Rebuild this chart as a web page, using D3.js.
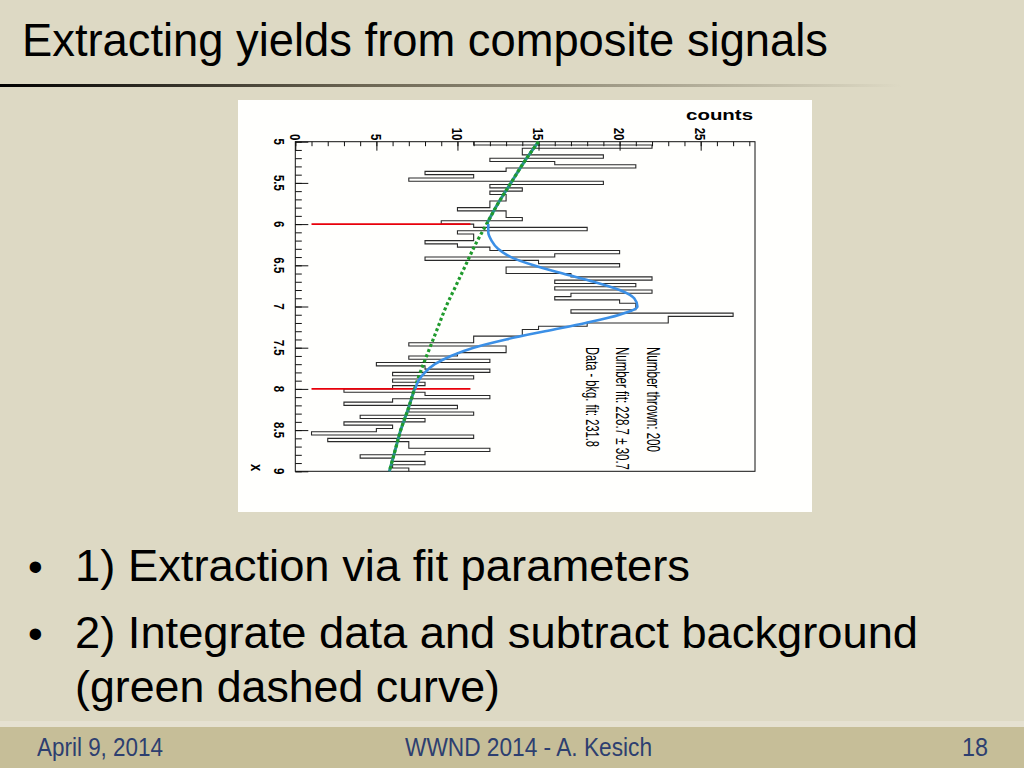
<!DOCTYPE html>
<html><head><meta charset="utf-8">
<script src="https://cdn.jsdelivr.net/npm/d3@7"></script>
<style>html,body{margin:0;padding:0;background:#ddd9c4;}svg{display:block}</style>
</head><body><svg id="c" width="1024" height="768"></svg>
<script>
// ---------- data ----------
const histLow = 5, histHigh = 9;
const binCounts = [11,22,14,14,19,12,16,21,13,8,
  11,7,19,12,14,12,13,13,12,12,
  10,13,13,14,9,11,18,10,11,11,
  8,10,12,20,16,8,15,20,13,13,
  17,22,16,21,16,22,17,16,20,21,
  21,17,27,23,23,18,15,14,14,11,
  11,7,13,13,10,7,12,5,8,12,
  6,11,6,8,6,3,8,12,6,3,
  10,7,11,4,8,3,6,5,1,11,
  2,7,7,12,8,4,6,8,6,7];
const countMax = 28.35;
const countTicks = [0,5,10,15,20,25];
const xTicks = [5,5.5,6,6.5,7,7.5,8,8.5,9];
const bkgX = [5,5.25,5.5,5.75,6,6.25,6.5,6.75,7,7.25,7.5,7.75,8,8.25,8.5,8.75,9];
const bkgY = [15.0,14.1,13.3,12.5,11.8,11.1,10.5,9.9,9.3,8.8,8.3,7.8,7.35,6.95,6.5,6.15,5.8];
const fitX = [6.0,6.1,6.2,6.3,6.4,6.5,6.6,6.7,6.8,6.9,7.0,7.1,7.2,7.3,7.4,7.5,7.6,7.7,7.8,7.9,8.0];
const fitY = [11.9,11.9,12.1,12.5,13.3,14.7,16.5,18.4,20.0,20.9,21.1,20.0,17.9,15.4,13.0,11.0,9.6,8.6,8.0,7.6,7.4];
const rangeX = [6,8];
const rangeCounts = [1.0,10.8];
const sideBands = [[5,6],[8,9]];
const statLines = ["Number thrown: 200","Number fit: 228.7 \u00b1 30.7","Data - bkg. fit: 231.8"];
const titleText = "Extracting yields from composite signals";
const bulletLines = ["1) Extraction via fit parameters","2) Integrate data and subtract background","(green dashed curve)"];
const footerTexts = ["April 9, 2014","WWND 2014 - A. Kesich","18"];

// ---------- slide ----------
const svg = d3.select("#c");
const sans = "'Liberation Sans',Arial,Helvetica,sans-serif";
svg.append("rect").attr("width",1024).attr("height",768).attr("fill","#ddd9c4");
svg.append("rect").attr("x",0).attr("y",721).attr("width",1024).attr("height",6).attr("fill","#e5e1d1");
svg.append("rect").attr("x",0).attr("y",727).attr("width",1024).attr("height",41).attr("fill","#c6be98");
const defs = svg.append("defs");
const gr = defs.append("linearGradient").attr("id","ul").attr("x1","0").attr("x2","1").attr("y1","0").attr("y2","0");
gr.append("stop").attr("offset","0").attr("stop-color","#000");
gr.append("stop").attr("offset","0.35").attr("stop-color","#6b6552");
gr.append("stop").attr("offset","0.88").attr("stop-color","#ddd9c4");
svg.append("rect").attr("x",0).attr("y",84).attr("width",1024).attr("height",3).attr("fill","url(#ul)");

svg.append("text").text(titleText)
  .attr("x",22).attr("y",56)
  .attr("font-family",sans)
  .attr("font-size",47).attr("fill","#000")
  .attr("textLength",806).attr("lengthAdjust","spacingAndGlyphs");

const bulletY = [581,648,702];
const bulletW = [615,843,425];
bulletLines.forEach((t,i)=>{
  if(i<2) svg.append("text").text("\u2022").attr("x",28).attr("y",bulletY[i])
    .attr("font-family",sans).attr("font-size",42).attr("fill","#000");
  svg.append("text").text(t).attr("x",75).attr("y",bulletY[i])
    .attr("font-family",sans).attr("font-size",45).attr("fill","#000")
    .attr("textLength",bulletW[i]).attr("lengthAdjust","spacingAndGlyphs");
});

const footX = [37,405,962], footW = [126,247,26];
footerTexts.forEach((t,i)=>{
  svg.append("text").text(t).attr("x",footX[i]).attr("y",756)
    .attr("font-family",sans)
    .attr("font-size",25).attr("fill","#2d3f70")
    .attr("textLength",footW[i]).attr("lengthAdjust","spacingAndGlyphs");
});

// ---------- chart ----------
svg.append("rect").attr("x",238).attr("y",100).attr("width",574).attr("height",412).attr("fill","#fffffd");

const cx = d3.scaleLinear().domain([0,countMax]).range([295.3,755]);
const cy = d3.scaleLinear().domain([histLow,histHigh]).range([141.7,471.3]);
const nb = binCounts.length, bw = (histHigh-histLow)/nb;

// histogram
const pts = binCounts.map((c,i)=>[c, histLow+i*bw]);
pts.push([binCounts[nb-1], histHigh]);
svg.append("path").attr("d", d3.line().x(d=>cx(d[0])).y(d=>cy(d[1])).curve(d3.curveStepBefore)(pts))
  .attr("fill","none").attr("stroke","#2a2a2a").attr("stroke-width",1.1);

// frame
svg.append("rect").attr("x",cx(0)).attr("y",cy(histLow)).attr("width",cx(countMax)-cx(0)).attr("height",cy(histHigh)-cy(histLow))
  .attr("fill","none").attr("stroke","#111").attr("stroke-width",1);

// axes
const tickStyle = g=>{g.select(".domain").remove(); g.selectAll("line").attr("stroke","#111");};
svg.append("g").attr("transform",`translate(0,${cy(histLow)})`)
  .call(d3.axisTop(cx).tickValues(d3.range(0,29,1)).tickSize(-4.5).tickFormat("")).call(tickStyle);
svg.append("g").attr("transform",`translate(0,${cy(histLow)})`)
  .call(d3.axisTop(cx).tickValues(countTicks).tickSize(-9).tickFormat("")).call(tickStyle);
svg.append("g").attr("transform",`translate(${cx(0)},0)`)
  .call(d3.axisLeft(cy).tickValues(d3.range(50,91,1).map(v=>v/10)).tickSize(-6.5).tickFormat("")).call(tickStyle);
svg.append("g").attr("transform",`translate(${cx(0)},0)`)
  .call(d3.axisLeft(cy).tickValues(xTicks).tickSize(-13).tickFormat("")).call(tickStyle);

// tick labels (canvas rotated 90deg clockwise, stretched horizontally)
svg.append("g").selectAll("text").data(countTicks).join("text")
  .text(d=>d)
  .attr("transform",d=>`translate(${cx(d)-5.3},140.5) scale(1.3,1) rotate(90)`)
  .attr("text-anchor","end").attr("font-family",sans).attr("font-weight","bold").attr("font-size",11.5).attr("fill","#000");
svg.append("g").selectAll("text").data(xTicks).join("text")
  .text(d=>d)
  .attr("transform",d=>`translate(274,${cy(d)}) scale(1.3,1) rotate(90)`)
  .attr("text-anchor","middle").attr("font-family",sans).attr("font-weight","bold").attr("font-size",11.5).attr("fill","#000");
svg.append("text").text("counts")
  .attr("transform","translate(753,120) scale(1.3,1)")
  .attr("text-anchor","end").attr("font-family",sans).attr("font-weight","bold").attr("font-size",14.5).attr("fill","#000")
  .attr("textLength",51.5).attr("lengthAdjust","spacingAndGlyphs");
svg.append("text").text("x")
  .attr("transform",`translate(251,${cy(histHigh)}) scale(1.3,1) rotate(90)`)
  .attr("text-anchor","end").attr("font-family",sans).attr("font-weight","bold").attr("font-size",13).attr("fill","#000");

// fit-range markers
svg.append("g").selectAll("line").data(rangeX).join("line")
  .attr("x1",cx(rangeCounts[0])).attr("x2",cx(rangeCounts[1]))
  .attr("y1",d=>cy(d)).attr("y2",d=>cy(d))
  .attr("stroke","#e8000a").attr("stroke-width",1.6);

// curves
const curveLine = d3.line().x(d=>cx(d[1])).y(d=>cy(d[0])).curve(d3.curveMonotoneY);
const bkgPts = bkgX.map((x,i)=>[x,bkgY[i]]);
sideBands.forEach(([a,b])=>{
  svg.append("path").attr("d",curveLine(bkgPts.filter(p=>p[0]>=a&&p[0]<=b)))
    .attr("fill","none").attr("stroke","#2a8f8c").attr("stroke-width",3);
});
svg.append("path").attr("d",curveLine(bkgPts))
  .attr("fill","none").attr("stroke","#1f9a2c").attr("stroke-width",3.2).attr("stroke-dasharray","3,2.6");
svg.append("path").attr("d",curveLine(fitX.map((x,i)=>[x,fitY[i]])))
  .attr("fill","none").attr("stroke","#3c90e6").attr("stroke-width",2.6);

// stats text
const statX = [647,616,586], statW = [105,123,100];
statLines.forEach((t,i)=>{
  svg.append("text").text(t)
    .attr("transform",`translate(${statX[i]},347) scale(1.3,1) rotate(90)`)
    .attr("font-family",sans)
    .attr("font-size",14.5).attr("fill","#000")
    .attr("textLength",statW[i]).attr("lengthAdjust","spacingAndGlyphs");
});
</script></body></html>
